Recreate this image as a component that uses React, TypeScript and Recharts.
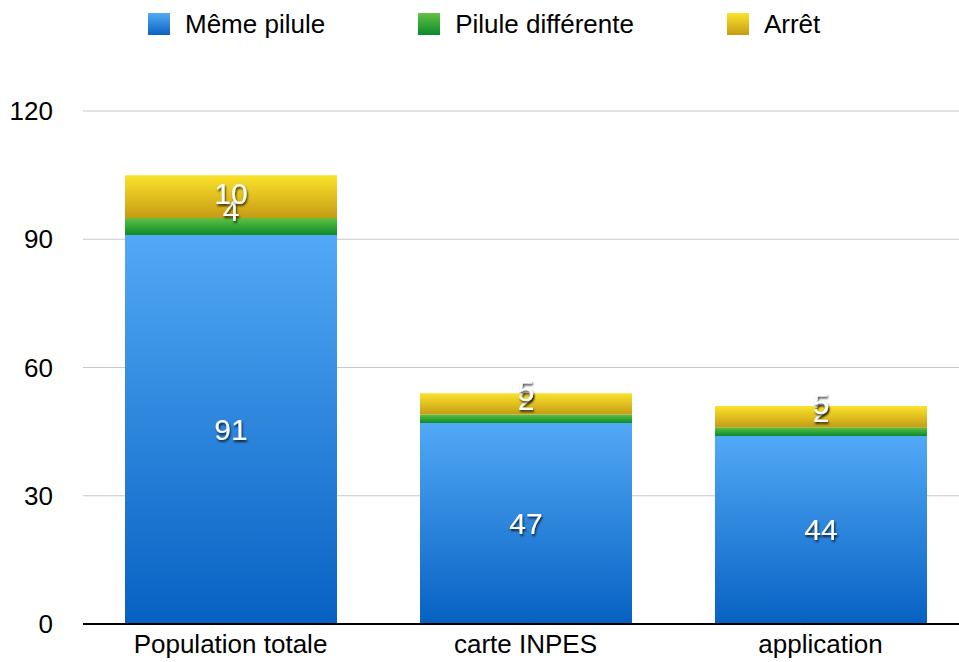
import { Bar, BarChart, CartesianGrid, LabelList, XAxis, YAxis } from "recharts";

const categories = ["Population totale", "carte INPES", "application"];
const memePilule = [91, 47, 44];
const piluleDifferente = [4, 2, 2];
const arret = [10, 5, 5];
const yTicks = [0, 30, 60, 90, 120];

const data = categories.map((name, i) => ({
  name,
  meme: memePilule[i],
  diff: piluleDifferente[i],
  arret: arret[i],
}));

const FONT = "'Liberation Sans', Arial, Helvetica, sans-serif";

const legendItems = [
  { label: "Même pilule", top: "#55aaf6", bottom: "#0a62c2" },
  { label: "Pilule différente", top: "#63c244", bottom: "#0a8a2c" },
  { label: "Arrêt", top: "#fbe32c", bottom: "#c69c14" },
];

function SegmentLabel(props: any) {
  const { x, y, width, height, value } = props;
  const bottom = Number(y) + Number(height);
  const cy = bottom - Math.max(Number(height), 48) / 2;
  return (
    <text
      x={Number(x) + Number(width) / 2}
      y={cy}
      textAnchor="middle"
      dominantBaseline="central"
      fill="#fff"
      fontSize={30}
      fontFamily={FONT}
      filter="url(#lblShadow)"
    >
      {value}
    </text>
  );
}

export default function App() {
  return (
    <div style={{ position: "absolute", left: 0, top: 0, width: 959, height: 662, overflow: "hidden", background: "#fff", fontFamily: FONT }}>
      <div style={{ position: "absolute", left: 148, top: 9, height: 30, display: "flex", alignItems: "center", fontSize: 26, color: "#000" }}>
        {legendItems.map((it, i) => (
          <div key={i} style={{ display: "flex", alignItems: "center", marginRight: i < 2 ? 93 : 0 }}>
            <span
              style={{
                width: 22,
                height: 22,
                display: "inline-block",
                background: `linear-gradient(${it.top}, ${it.bottom})`,
                marginRight: 15,
              }}
            />
            <span>{it.label}</span>
          </div>
        ))}
      </div>
      <BarChart
        width={968}
        height={662}
        data={data}
        margin={{ top: 111, right: 0, left: 0, bottom: 0 }}
        barSize={212}
      >
        <defs>
          <linearGradient id="gBlue" x1="0" y1="0" x2="0" y2="1">
            <stop offset="0%" stopColor="#52a9f6" />
            <stop offset="100%" stopColor="#0761c2" />
          </linearGradient>
          <linearGradient id="gGreen" x1="0" y1="0" x2="0" y2="1">
            <stop offset="0%" stopColor="#60c142" />
            <stop offset="100%" stopColor="#0a8a2c" />
          </linearGradient>
          <linearGradient id="gYellow" x1="0" y1="0" x2="0" y2="1">
            <stop offset="0%" stopColor="#fbe32c" />
            <stop offset="100%" stopColor="#c69c14" />
          </linearGradient>
          <filter id="lblShadow" x="-30%" y="-30%" width="160%" height="160%">
            <feDropShadow dx="1" dy="2" stdDeviation="1.2" floodColor="#000" floodOpacity="0.75" />
          </filter>
        </defs>
        <CartesianGrid vertical={false} stroke="#c8c8c8" strokeWidth={1.2} />
        <XAxis
          dataKey="name"
          height={38}
          tickSize={0}
          tickMargin={11}
          axisLine={{ stroke: "#000", strokeWidth: 2 }}
          tick={{ fill: "#000", fontSize: 26, fontFamily: FONT }}
        />
        <YAxis
          width={83}
          domain={[0, 120]}
          ticks={yTicks}
          tickSize={0}
          tickMargin={30}
          axisLine={false}
          tick={{ fill: "#000", fontSize: 26, fontFamily: FONT }}
        />
        <Bar dataKey="meme" stackId="a" fill="url(#gBlue)" isAnimationActive={false}>
          <LabelList dataKey="meme" content={SegmentLabel} />
        </Bar>
        <Bar dataKey="diff" stackId="a" fill="url(#gGreen)" isAnimationActive={false}>
          <LabelList dataKey="diff" content={SegmentLabel} />
        </Bar>
        <Bar dataKey="arret" stackId="a" fill="url(#gYellow)" isAnimationActive={false}>
          <LabelList dataKey="arret" content={SegmentLabel} />
        </Bar>
      </BarChart>
    </div>
  );
}
